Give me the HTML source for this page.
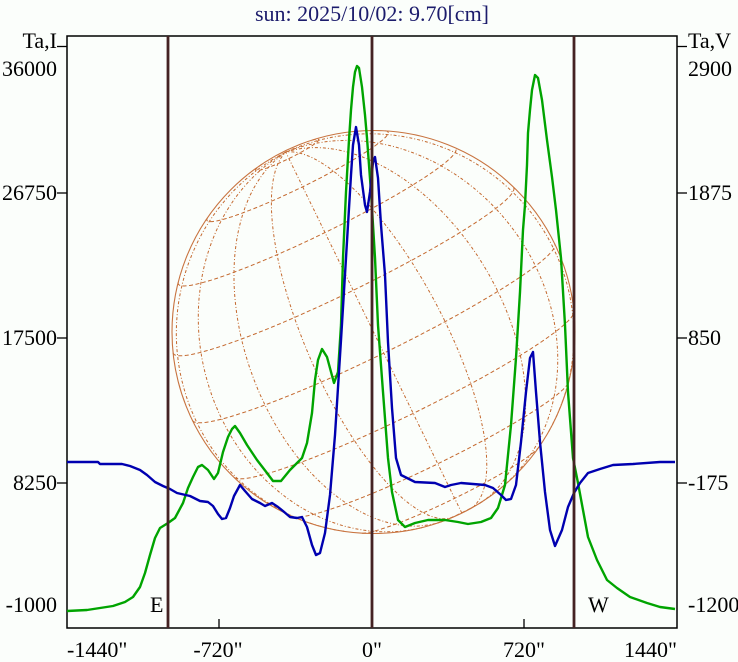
<!DOCTYPE html>
<html>
<head>
<meta charset="utf-8">
<style>
html,body{margin:0;padding:0;background:#fbfefb;}
svg{display:block;}
text{font-family:"Liberation Serif","DejaVu Serif",serif;font-size:22px;fill:#000;}
</style>
</head>
<body>
<svg id="s" width="738" height="662" viewBox="0 0 738 662" xmlns="http://www.w3.org/2000/svg">
<rect x="0" y="0" width="738" height="662" fill="#fbfefb"/>
<text x="372" y="21" text-anchor="middle" style="fill:#1c1c6c">sun: 2025/10/02: 9.70[cm]</text>

<g id="grid" fill="none" stroke="#c4692f" stroke-width="1"></g>
<circle cx="373.5" cy="332" r="201.5" fill="none" stroke="#c8733f" stroke-width="1.1"/>

<!-- frame -->
<rect x="67" y="36" width="610" height="592" fill="none" stroke="#000" stroke-width="1.5"/>

<!-- ticks -->
<g stroke="#000" stroke-width="1.3">
<line x1="57" y1="46.5" x2="67" y2="46.5"/>
<line x1="57" y1="193" x2="67" y2="193"/>
<line x1="57" y1="338" x2="67" y2="338"/>
<line x1="57" y1="483" x2="67" y2="483"/>
<line x1="677" y1="46.5" x2="687" y2="46.5"/>
<line x1="677" y1="193" x2="687" y2="193"/>
<line x1="677" y1="338" x2="687" y2="338"/>
<line x1="677" y1="483" x2="687" y2="483"/>
<line x1="219" y1="619" x2="219" y2="628"/>
<line x1="524" y1="619" x2="524" y2="628"/>
</g>

<!-- curves -->
<polyline fill="none" stroke="#00a400" stroke-width="2.4" stroke-linejoin="round" points="67,611 87,610 100,608 113,606 125,602 133,597 140,587 145,573 150,555 155,538 160,528 168,523 175,518 183,503 188,488 193,477 198,467 202,465 208,470 214,479 218,473 223,452 228,437 232,429 235,426 240,433 247,445 257,460 267,473 273,481 281,481 290,470 302,458 307,443 312,413 315,380 318,360 322,349 327,357 334,383 338,372 341,325 343,258 346,192 349,140 351,110 353,87 355,72 357,66 359,68 362,87 365,115 367,138 369,165 371,192 373,225 375,258 378,325 383,392 388,458 392,492 398,520 405,527 415,523 428,520 445,520 458,522 468,524 481,522 491,518 498,508 505,485 511,425 516,358 520,292 523,230 525,205 527,165 528,133 530,110 532,90 535,75 538,78 542,100 547,140 552,177 556,210 561,258 565,325 568,392 573,458 578,483 583,510 588,537 597,560 607,580 617,588 630,597 647,603 660,607 675,609"/>
<polyline fill="none" stroke="#0000b0" stroke-width="2.4" stroke-linejoin="round" points="67,462 98,462 100,464 122,464 130,466 140,470 147,475 155,482 163,486 170,489 177,493 190,496 200,501 208,502 213,506 218,514 222,519 226,518 230,508 234,496 240,485 245,491 252,499 260,503 265,506 272,503 278,507 283,511 290,517 297,518 302,517 307,527 312,545 316,555 320,553 325,533 330,495 335,435 341,340 346,258 351,175 353,145 356,127 359,145 361,175 365,205 367,212 370,192 373,162 375,157 378,178 381,225 385,275 388,342 392,408 396,458 401,475 415,482 435,483 445,487 451,485 461,483 485,485 493,488 501,495 506,500 511,499 516,485 521,442 526,392 530,358 533,352 536,392 540,442 545,492 550,530 555,546 562,530 568,507 574,493 580,483 588,473 600,469 613,465 633,464 660,462 675,462"/>

<!-- vertical lines -->
<g stroke="#442323" stroke-width="2.8">
<line x1="168" y1="36" x2="168" y2="628"/>
<line x1="372" y1="36" x2="372" y2="628"/>
<line x1="574" y1="36" x2="574" y2="628"/>
</g>

<!-- left labels -->
<text x="57" y="48" text-anchor="end">Ta,I</text>
<text x="57" y="76" text-anchor="end">36000</text>
<text x="57" y="200" text-anchor="end">26750</text>
<text x="57" y="345" text-anchor="end">17500</text>
<text x="57" y="490" text-anchor="end">8250</text>
<text x="57" y="612" text-anchor="end">-1000</text>
<!-- right labels -->
<text x="688" y="48">Ta,V</text>
<text x="688" y="76">2900</text>
<text x="688" y="200">1875</text>
<text x="688" y="345">850</text>
<text x="688" y="490">-175</text>
<text x="688" y="612">-1200</text>
<!-- bottom labels -->
<text x="67" y="657">-1440"</text>
<text x="218" y="657" text-anchor="middle">-720"</text>
<text x="372" y="657" text-anchor="middle">0"</text>
<text x="524" y="657" text-anchor="middle">720"</text>
<text x="677" y="657" text-anchor="end">1440"</text>
<text x="150" y="612">E</text>
<text x="588" y="612">W</text>
</svg>
<script>
(function(){
var NS="http://www.w3.org/2000/svg";
var g=document.getElementById("grid");
var cx=373.5, cy=332, R=201.5, P=26*Math.PI/180, B=6.7*Math.PI/180;
var d=Math.PI/180;
function proj(phi,lam){
  var xp=Math.cos(phi)*Math.sin(lam);
  var yp=Math.sin(phi)*Math.cos(B)-Math.cos(phi)*Math.cos(lam)*Math.sin(B);
  var z=Math.sin(phi)*Math.sin(B)+Math.cos(phi)*Math.cos(lam)*Math.cos(B);
  var X=xp*Math.cos(P)-yp*Math.sin(P);
  var Y=xp*Math.sin(P)+yp*Math.cos(P);
  return [cx+R*X, cy-R*Y, z];
}
function add(pts,dash){
  if(pts.length<2)return;
  var p=document.createElementNS(NS,"polyline");
  p.setAttribute("points",pts.map(function(q){return q[0].toFixed(1)+","+q[1].toFixed(1);}).join(" "));
  p.setAttribute("stroke-dasharray",dash);
  g.appendChild(p);
}
var phi,lam,pts,q;
for(phi=-80;phi<=80;phi+=20){
  pts=[];
  for(lam=-180;lam<=180;lam+=1){
    q=proj(phi*d,lam*d);
    if(q[2]>=0){pts.push(q);}else if(pts.length){add(pts,"4,2.5");pts=[];}
  }
  add(pts,"4,2.5");
}
for(lam=-80;lam<=80;lam+=20){
  pts=[];
  for(phi=-90;phi<=90;phi+=1){
    q=proj(phi*d,lam*d);
    if(q[2]>=0){pts.push(q);}else if(pts.length){add(pts,"3,2,1,2");pts=[];}
  }
  add(pts,"3,2,1,2");
}
})();
</script>
</body>
</html>
